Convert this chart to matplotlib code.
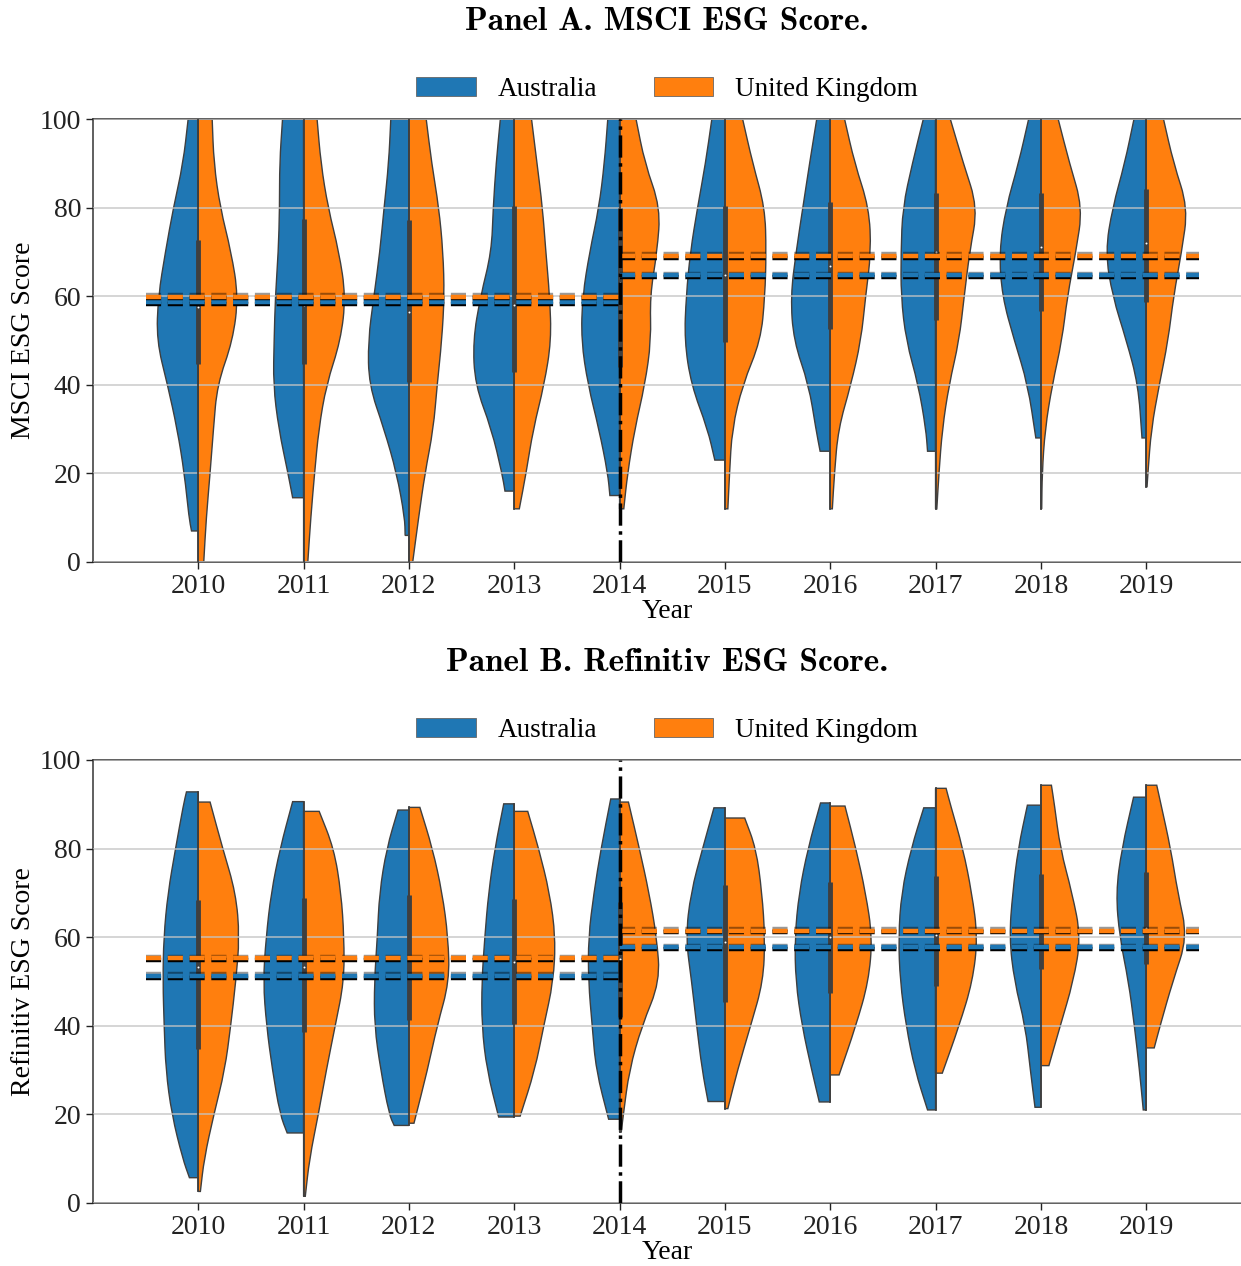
import numpy as np
import matplotlib
matplotlib.use('Agg')
import matplotlib.pyplot as plt
from matplotlib.path import Path
from matplotlib.patches import PathPatch, Patch
import matplotlib.patheffects as pe

plt.rcParams['font.family'] = ['Liberation Serif', 'DejaVu Serif']

years = ['2010', '2011', '2012', '2013', '2014', '2015', '2016', '2017', '2018', '2019']
countries = ['Australia', 'United Kingdom']
colors = ['#1f77b4', '#ff7f0e']

# ---- Panel A: MSCI ----
# half-violin profiles: widths (1 = full half width) at levels lo, 10, 20, ... , hi
msci_au_lo = [7, 14.5, 6, 16, 15, 23, 25, 25, 28, 28]
msci_au_hi = [100, 100, 100, 100, 100, 100, 100, 100, 100, 100]
msci_au_w = [
    [0.16, 0.22, 0.33, 0.50, 0.73, 0.99, 0.95, 0.78, 0.59, 0.36, 0.24],
    [0.26, 0.37, 0.59, 0.72, 0.70, 0.67, 0.60, 0.57, 0.57, 0.50],
    [0.09, 0.10, 0.29, 0.59, 0.95, 0.97, 0.83, 0.69, 0.59, 0.48, 0.43],
    [0.22, 0.29, 0.54, 0.93, 0.98, 0.80, 0.54, 0.50, 0.43, 0.33],
    [0.23, 0.28, 0.49, 0.75, 0.91, 0.88, 0.71, 0.49, 0.36, 0.28],
    [0.24, 0.41, 0.80, 0.96, 0.92, 0.82, 0.65, 0.46, 0.31],
    [0.24, 0.34, 0.51, 0.87, 0.94, 0.81, 0.65, 0.49, 0.32],
    [0.19, 0.23, 0.41, 0.70, 0.82, 0.82, 0.78, 0.55, 0.29],
    [0.12, 0.31, 0.63, 0.92, 0.99, 0.83, 0.53, 0.29],
    [0.10, 0.19, 0.47, 0.80, 0.97, 0.80, 0.51, 0.29],
]
msci_uk_lo = [0, 0, 0, 12, 12, 12, 12, 12, 12, 17]
msci_uk_hi = [100, 100, 100, 100, 100, 100, 100, 100, 100, 100]
msci_uk_w = [
    [0.13, 0.19, 0.28, 0.36, 0.45, 0.82, 0.95, 0.78, 0.52, 0.37, 0.33],
    [0.10, 0.17, 0.26, 0.36, 0.54, 0.88, 1.00, 0.84, 0.58, 0.41, 0.32],
    [0.09, 0.23, 0.38, 0.58, 0.67, 0.78, 0.84, 0.81, 0.71, 0.54, 0.41],
    [0.12, 0.28, 0.45, 0.71, 0.88, 0.84, 0.75, 0.67, 0.54, 0.41],
    [0.10, 0.19, 0.36, 0.60, 0.75, 0.72, 0.89, 0.97, 0.60, 0.39],
    [0.07, 0.11, 0.17, 0.42, 0.85, 0.95, 0.98, 0.95, 0.66, 0.42],
    [0.05, 0.10, 0.19, 0.49, 0.73, 0.84, 0.97, 0.92, 0.58, 0.34],
    [0.03, 0.08, 0.16, 0.32, 0.56, 0.68, 0.81, 1.00, 0.66, 0.35],
    [0.02, 0.03, 0.10, 0.27, 0.50, 0.63, 0.83, 0.99, 0.68, 0.41],
    [0.02, 0.04, 0.12, 0.31, 0.52, 0.65, 0.84, 0.99, 0.65, 0.41],
]
msci_q1 = [44.8, 44.8, 40.7, 42.8, 44.1, 49.7, 52.7, 54.6, 56.7, 58.6]
msci_med = [57.6, 58.0, 56.4, 58.0, 62.9, 64.8, 66.9, 69.9, 71.0, 72.0]
msci_q3 = [72.7, 77.4, 77.2, 80.4, 79.8, 80.4, 81.2, 83.2, 83.2, 84.2]
msci_mean_pre = [58.6, 59.9]    # Australia, UK (2010-2013)
msci_mean_post = [64.7, 69.1]   # Australia, UK (2014-2019)

# ---- Panel B: Refinitiv ----
ref_au_lo = [5.7, 15.8, 17.5, 19.4, 18.9, 22.9, 22.8, 21.0, 21.6, 21.0]
ref_au_hi = [92.8, 90.6, 88.7, 90.1, 91.2, 89.2, 90.3, 89.2, 89.8, 91.6]
ref_au_w = [
    [0.21, 0.37, 0.63, 0.77, 0.81, 0.84, 0.82, 0.72, 0.54, 0.35, 0.28],
    [0.39, 0.56, 0.74, 0.88, 0.96, 0.89, 0.77, 0.56, 0.26],
    [0.35, 0.47, 0.67, 0.82, 0.82, 0.75, 0.70, 0.53, 0.26],
    [0.37, 0.65, 0.77, 0.77, 0.70, 0.61, 0.46, 0.25],
    [0.26, 0.56, 0.65, 0.74, 0.74, 0.61, 0.44, 0.21],
    [0.40, 0.54, 0.67, 0.79, 0.93, 0.81, 0.53, 0.26],
    [0.26, 0.44, 0.67, 0.82, 0.84, 0.74, 0.53, 0.23],
    [0.19, 0.49, 0.70, 0.84, 0.88, 0.81, 0.58, 0.28],
    [0.14, 0.25, 0.37, 0.63, 0.75, 0.67, 0.54, 0.32],
    [0.07, 0.16, 0.28, 0.42, 0.63, 0.72, 0.58, 0.30],
]
ref_uk_lo = [2.6, 1.5, 18.0, 19.6, 16.0, 21.3, 28.9, 29.3, 31.0, 35.0]
ref_uk_hi = [90.5, 88.4, 89.3, 88.4, 90.5, 86.9, 89.6, 93.6, 94.3, 94.3]
ref_uk_w = [
    [0.05, 0.14, 0.37, 0.63, 0.77, 0.89, 0.98, 0.89, 0.58, 0.28],
    [0.04, 0.14, 0.35, 0.54, 0.75, 0.96, 0.96, 0.89, 0.72, 0.37],
    [0.12, 0.44, 0.67, 0.96, 0.93, 0.79, 0.56, 0.26],
    [0.14, 0.49, 0.70, 0.93, 0.98, 0.84, 0.58, 0.32],
    [0.04, 0.09, 0.23, 0.53, 0.96, 0.88, 0.70, 0.47, 0.21],
    [0.07, 0.30, 0.61, 0.91, 0.95, 0.88, 0.74, 0.47],
    [0.21, 0.61, 0.91, 1.00, 0.84, 0.61, 0.35],
    [0.16, 0.56, 0.88, 1.00, 0.86, 0.65, 0.35, 0.25],
    [0.19, 0.46, 0.77, 0.95, 0.74, 0.46, 0.32, 0.25],
    [0.19, 0.33, 0.63, 0.98, 0.75, 0.58, 0.35, 0.25],
]
ref_q1 = [34.7, 38.7, 41.2, 40.5, 42.0, 45.4, 47.3, 49.0, 52.9, 53.9]
ref_med = [53.2, 53.3, 55.0, 54.5, 55.0, 59.0, 60.0, 60.5, 61.3, 62.0]
ref_q3 = [68.3, 68.8, 69.6, 68.7, 68.0, 71.8, 72.4, 73.7, 74.3, 74.6]
ref_mean_pre = [51.2, 55.2]
ref_mean_post = [57.7, 61.5]

EDGE = '#3f3f3f'


def half_violin(ax, pos, lo, hi, widths, sign, color):
    levels = [lo] + [m for m in range(10, 100, 10) if lo + 2 < m < hi - 2] + [hi]
    assert len(levels) == len(widths), (pos, lo, hi, len(levels), len(widths))
    pts = [(pos + sign * 0.4 * w, y) for y, w in zip(levels, widths)]
    mid = lambda a, b: ((a[0] + b[0]) / 2, (a[1] + b[1]) / 2)
    verts = [(pos, lo), pts[0], mid(pts[0], pts[1])]
    codes = [Path.MOVETO, Path.LINETO, Path.LINETO]
    for i in range(1, len(pts) - 1):
        verts += [pts[i], mid(pts[i], pts[i + 1])]
        codes += [Path.CURVE3, Path.CURVE3]
    verts += [pts[-1], (pos, hi), (pos, lo)]
    codes += [Path.LINETO, Path.LINETO, Path.CLOSEPOLY]
    ax.add_patch(PathPatch(Path(verts, codes), facecolor=color, edgecolor=EDGE,
                           lw=1.0, zorder=1))


def panel(ax, title, ylabel, au, uk, q1, med, q3, mean_pre, mean_post):
    for i in range(len(years)):
        half_violin(ax, i, au[0][i], au[1][i], au[2][i], -1, colors[0])
        half_violin(ax, i, uk[0][i], uk[1][i], uk[2][i], 1, colors[1])
        wlo = min(au[0][i], uk[0][i])
        whi = max(au[1][i], uk[1][i])
        ax.plot([i, i], [wlo, whi], color=EDGE, lw=1.3, zorder=3)
        ax.plot([i, i], [q1[i], q3[i]], color=EDGE, lw=3.5, solid_capstyle='butt', zorder=3)
        ax.scatter([i], [med[i]], s=2, color='white', zorder=4, linewidths=0)

    shadow = [pe.SimpleLineShadow(offset=(0.3, -1.2), shadow_color='black', alpha=1.0),
              pe.SimpleLineShadow(offset=(0, 1.3), shadow_color='black', alpha=0.4),
              pe.Normal()]
    for k in range(2):
        for x0, x1, m in [(-0.5, 4, mean_pre[k]), (4, 9.5, mean_post[k])]:
            ax.plot([x0, x1], [m, m], color=colors[k], lw=3.2,
                    linestyle=(0, (3.4, 1.5)), zorder=6, path_effects=shadow)

    ax.plot([4, 4], [0, 100], color='black', lw=2.5, linestyle='-.', zorder=7)

    ax.set_xlim(-1, 9.9)
    ax.set_ylim(0, 100)
    ax.set_xticks(range(len(years)))
    ax.set_xticklabels(years)
    ax.set_yticks([0, 20, 40, 60, 80, 100])
    ax.tick_params(labelsize=20, colors='#222222', length=5, width=1)
    ax.set_axisbelow(False)
    ax.yaxis.grid(True, color='#c4c4c4', lw=1.4, alpha=0.7)
    ax.spines['right'].set_visible(False)
    for s in ['left', 'bottom', 'top']:
        ax.spines[s].set_color('#444444')
        ax.spines[s].set_linewidth(1.2)
    ax.set_xlabel('Year', fontsize=20, labelpad=0)
    ax.set_ylabel(ylabel, fontsize=20)
    ax.yaxis.set_label_coords(-0.05, 0.5)
    ax.text(0.5, 1.221, title, transform=ax.transAxes, ha='center', va='center',
            fontsize=24, family=['cmb10', 'DejaVu Serif'])
    handles = [Patch(facecolor=c, edgecolor='#666666', lw=0.6) for c in colors]
    ax.legend(handles, countries, loc='center', bbox_to_anchor=(0.5, 1.066), ncol=2,
              frameon=False, fontsize=19.5, handlelength=2.2, handleheight=0.7,
              handletextpad=0.8, columnspacing=2.1)


fig = plt.figure(figsize=(12.41, 12.66), dpi=100)
ax1 = fig.add_axes([0.0749, 0.5561, 0.9251, 0.3499])
ax2 = fig.add_axes([0.0749, 0.0498, 0.9251, 0.3499])

panel(ax1, 'Panel A. MSCI ESG Score.', 'MSCI ESG Score',
      (msci_au_lo, msci_au_hi, msci_au_w), (msci_uk_lo, msci_uk_hi, msci_uk_w),
      msci_q1, msci_med, msci_q3, msci_mean_pre, msci_mean_post)
panel(ax2, 'Panel B. Refinitiv ESG Score.', 'Refinitiv ESG Score',
      (ref_au_lo, ref_au_hi, ref_au_w), (ref_uk_lo, ref_uk_hi, ref_uk_w),
      ref_q1, ref_med, ref_q3, ref_mean_pre, ref_mean_post)

fig.savefig('out.png', dpi=100)
